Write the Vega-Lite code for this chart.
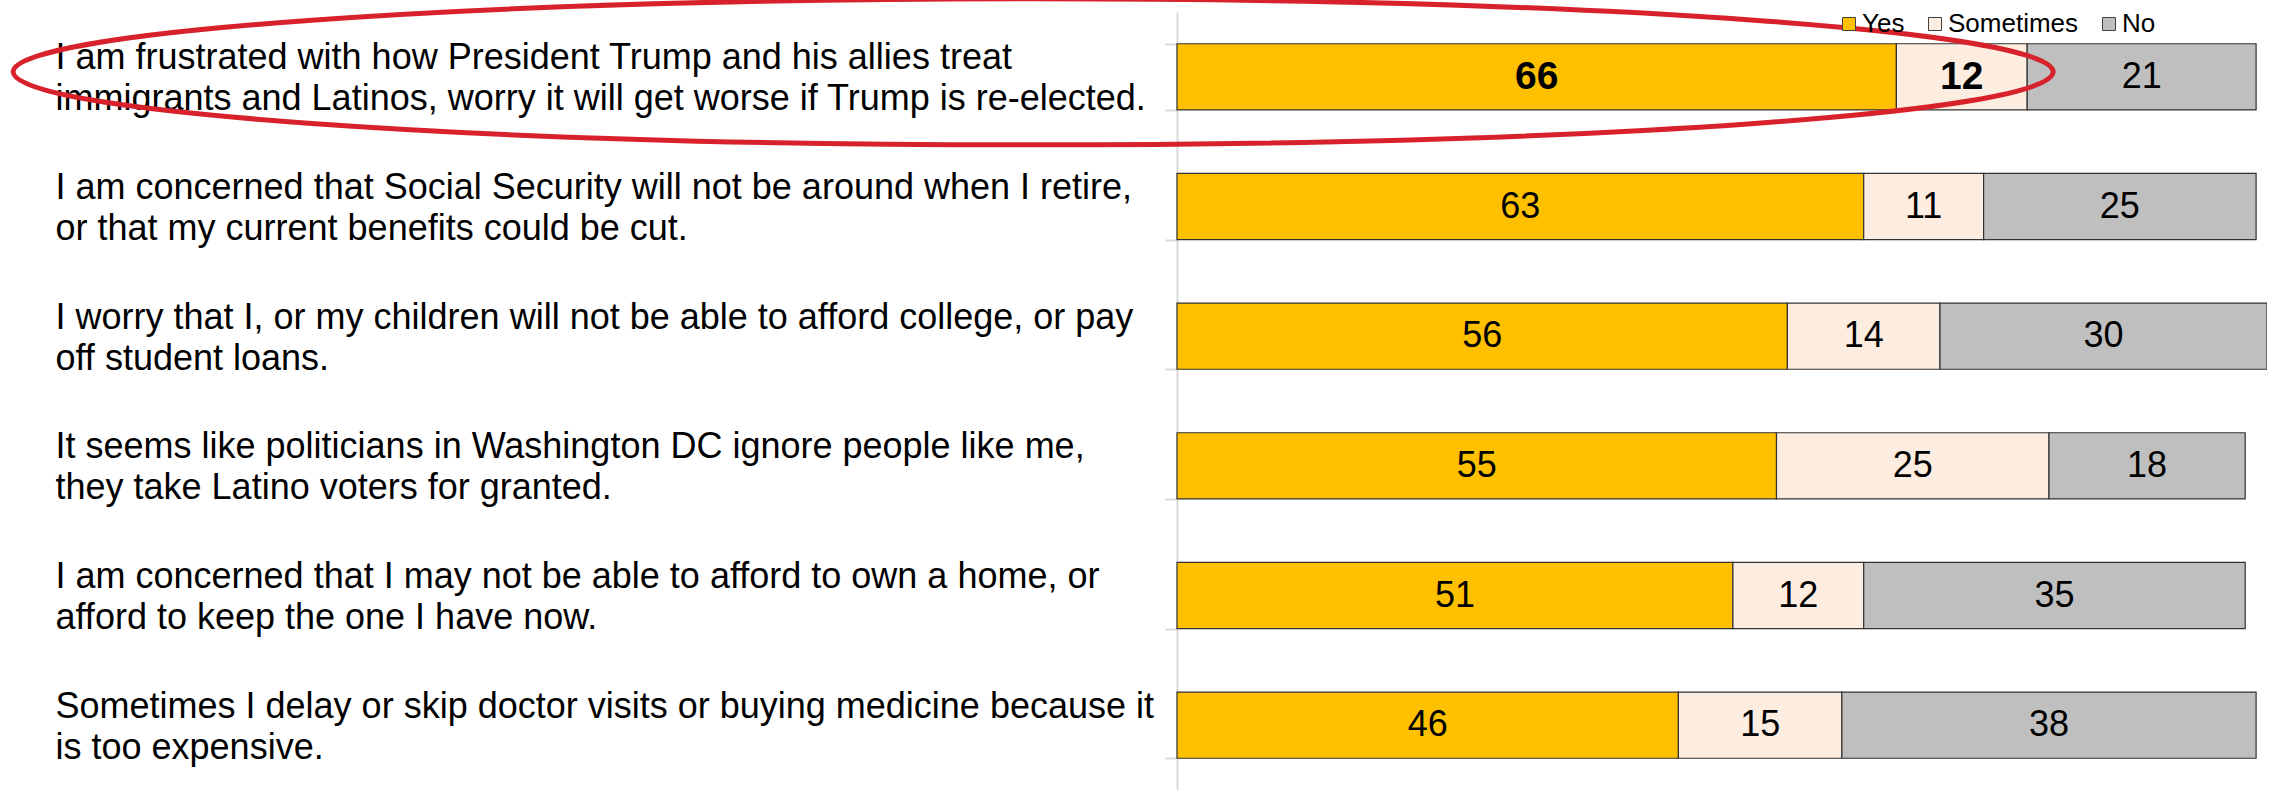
{
  "$schema": "https://vega.github.io/schema/vega-lite/v6.json",
  "width": 1090,
  "height": 778,
  "autosize": "none",
  "padding": {"left": 1177, "top": 12, "right": 0, "bottom": 0},
  "background": "white",
  "config": {"view": {"stroke": null}, "font": "Liberation Sans"},
  "data": {
    "values": [
      {"statement": "I am frustrated with how President Trump and his allies treat|immigrants and Latinos, worry it will get worse if Trump is re-elected.", "response": "Yes", "pct": 66},
      {"statement": "I am frustrated with how President Trump and his allies treat|immigrants and Latinos, worry it will get worse if Trump is re-elected.", "response": "Sometimes", "pct": 12},
      {"statement": "I am frustrated with how President Trump and his allies treat|immigrants and Latinos, worry it will get worse if Trump is re-elected.", "response": "No", "pct": 21},
      {"statement": "I am concerned that Social Security will not be around when I retire,|or that my current benefits could be cut.", "response": "Yes", "pct": 63},
      {"statement": "I am concerned that Social Security will not be around when I retire,|or that my current benefits could be cut.", "response": "Sometimes", "pct": 11},
      {"statement": "I am concerned that Social Security will not be around when I retire,|or that my current benefits could be cut.", "response": "No", "pct": 25},
      {"statement": "I worry that I, or my children will not be able to afford college, or pay|off student loans.", "response": "Yes", "pct": 56},
      {"statement": "I worry that I, or my children will not be able to afford college, or pay|off student loans.", "response": "Sometimes", "pct": 14},
      {"statement": "I worry that I, or my children will not be able to afford college, or pay|off student loans.", "response": "No", "pct": 30},
      {"statement": "It seems like politicians in Washington DC ignore people like me,|they take Latino voters for granted.", "response": "Yes", "pct": 55},
      {"statement": "It seems like politicians in Washington DC ignore people like me,|they take Latino voters for granted.", "response": "Sometimes", "pct": 25},
      {"statement": "It seems like politicians in Washington DC ignore people like me,|they take Latino voters for granted.", "response": "No", "pct": 18},
      {"statement": "I am concerned that I may not be able to afford to own a home, or|afford to keep the one I have now.", "response": "Yes", "pct": 51},
      {"statement": "I am concerned that I may not be able to afford to own a home, or|afford to keep the one I have now.", "response": "Sometimes", "pct": 12},
      {"statement": "I am concerned that I may not be able to afford to own a home, or|afford to keep the one I have now.", "response": "No", "pct": 35},
      {"statement": "Sometimes I delay or skip doctor visits or buying medicine because it|is too expensive.", "response": "Yes", "pct": 46},
      {"statement": "Sometimes I delay or skip doctor visits or buying medicine because it|is too expensive.", "response": "Sometimes", "pct": 15},
      {"statement": "Sometimes I delay or skip doctor visits or buying medicine because it|is too expensive.", "response": "No", "pct": 38}
    ]
  },
  "encoding": {
    "y": {
      "field": "statement",
      "type": "nominal",
      "scale": {
        "domain": [
          "I am frustrated with how President Trump and his allies treat|immigrants and Latinos, worry it will get worse if Trump is re-elected.",
          "I am concerned that Social Security will not be around when I retire,|or that my current benefits could be cut.",
          "I worry that I, or my children will not be able to afford college, or pay|off student loans.",
          "It seems like politicians in Washington DC ignore people like me,|they take Latino voters for granted.",
          "I am concerned that I may not be able to afford to own a home, or|afford to keep the one I have now.",
          "Sometimes I delay or skip doctor visits or buying medicine because it|is too expensive."
        ],
        "paddingInner": 0.49,
        "paddingOuter": 0.245
      },
      "axis": {
        "title": null,
        "labelExpr": "split(datum.label, '|')",
        "labelAlign": "left",
        "labelBaseline": "middle",
        "labelFontSize": 36,
        "labelLineHeight": 41,
        "labelOffset": -19,
        "labelColor": "black",
        "labelLimit": 1200,
        "labelPadding": 1110,
        "tickSize": 12,
        "tickColor": "#d9d9d9",
        "tickWidth": 2,
        "tickBand": "extent",
        "domainColor": "#d9d9d9",
        "domainWidth": 2
      }
    }
  },
  "layer": [
    {
      "transform": [
        {"calculate": "indexof(['Yes','Sometimes','No'], datum.response)", "as": "ord"},
        {"stack": "pct", "groupby": ["statement"], "sort": [{"field": "ord", "order": "ascending"}], "as": ["v0", "v1"]}
      ],
      "mark": {"type": "bar", "stroke": "#333333", "strokeWidth": 1.2},
      "encoding": {
        "x": {"field": "v0", "type": "quantitative", "scale": {"domain": [0, 100], "nice": false}, "axis": null},
        "x2": {"field": "v1"},
        "color": {
          "field": "response",
          "type": "nominal",
          "scale": {"domain": ["Yes", "Sometimes", "No"], "range": ["#FFC000", "#FDEDE0", "#BFBFBF"]},
          "legend": {
            "title": null,
            "orient": "none",
            "legendX": 659,
            "legendY": -1,
            "direction": "horizontal",
            "symbolType": "square",
            "symbolSize": 169,
            "symbolStrokeColor": "#404040",
            "symbolStrokeWidth": 1,
            "labelFontSize": 26,
            "labelColor": "black",
            "labelOffset": 0,
            "columnPadding": 17
          }
        }
      }
    },
    {
      "transform": [
        {"calculate": "indexof(['Yes','Sometimes','No'], datum.response)", "as": "ord"},
        {"stack": "pct", "groupby": ["statement"], "sort": [{"field": "ord", "order": "ascending"}], "as": ["v0", "v1"]},
        {"calculate": "(datum.v0 + datum.v1) / 2", "as": "mid"},
        {"filter": "!(indexof(datum.statement, 'frustrated') >= 0 && datum.response != 'No')"}
      ],
      "mark": {"type": "text", "fontSize": 36, "color": "black", "baseline": "middle", "align": "center"},
      "encoding": {
        "x": {"field": "mid", "type": "quantitative"},
        "text": {"field": "pct", "type": "quantitative"}
      }
    },
    {
      "transform": [
        {"calculate": "indexof(['Yes','Sometimes','No'], datum.response)", "as": "ord"},
        {"stack": "pct", "groupby": ["statement"], "sort": [{"field": "ord", "order": "ascending"}], "as": ["v0", "v1"]},
        {"calculate": "(datum.v0 + datum.v1) / 2", "as": "mid"},
        {"filter": "indexof(datum.statement, 'frustrated') >= 0 && datum.response != 'No'"}
      ],
      "mark": {"type": "text", "fontSize": 39, "fontWeight": "bold", "color": "black", "baseline": "middle", "align": "center"},
      "encoding": {
        "x": {"field": "mid", "type": "quantitative"},
        "text": {"field": "pct", "type": "quantitative"}
      }
    },
    {
      "data": {"values": [{"statement": "I am frustrated with how President Trump and his allies treat|immigrants and Latinos, worry it will get worse if Trump is re-elected.", "cx": -13.2}]},
      "mark": {
        "type": "point",
        "shape": "M-1,0 C-1,-0.0395 -0.5523,-0.0716 0,-0.0716 C0.5523,-0.0716 1,-0.0395 1,0 C1,0.0395 0.5523,0.0716 0,0.0716 C-0.5523,0.0716 -1,0.0395 -1,0 Z",
        "size": 4161600,
        "filled": false,
        "stroke": "#D7222C",
        "strokeWidth": 5,
        "opacity": 1,
        "yOffset": -5
      },
      "encoding": {
        "x": {"field": "cx", "type": "quantitative"}
      }
    }
  ]
}
